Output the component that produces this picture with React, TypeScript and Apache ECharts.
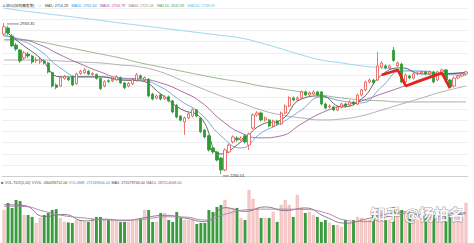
import React, { useEffect, useRef } from 'react';
import * as echarts from 'echarts';

const N = 116;
const categories: string[] = Array.from({ length: N }, (_, i) => `${i + 1}`);

// [open, close, low, high]
const candles: number[][] = [
  [2884, 2916, 2875, 2933.35], [2911, 2889, 2880, 2920], [2875, 2831, 2826, 2884], [2835, 2817, 2808, 2844], [2813, 2764, 2755, 2817],
  [2777, 2800, 2768, 2808], [2795, 2786, 2777, 2804], [2786, 2759, 2751, 2791], [2766, 2768, 2755, 2781], [2759, 2768, 2750, 2777],
  [2764, 2755, 2748, 2772], [2755, 2715, 2708, 2760], [2712, 2652, 2645, 2716], [2657, 2646, 2638, 2664], [2652, 2690, 2648, 2697],
  [2686, 2696, 2680, 2702], [2688, 2680, 2674, 2694], [2693, 2657, 2652, 2698], [2662, 2706, 2658, 2712], [2708, 2718, 2702, 2724],
  [2712, 2724, 2706, 2733], [2718, 2705, 2700, 2724], [2704, 2708, 2698, 2714], [2704, 2686, 2680, 2708], [2686, 2640, 2635, 2690],
  [2652, 2672, 2646, 2678], [2676, 2672, 2666, 2682], [2675, 2682, 2670, 2688], [2680, 2694, 2676, 2700], [2690, 2666, 2662, 2694],
  [2666, 2644, 2638, 2670], [2652, 2664, 2646, 2670], [2662, 2680, 2656, 2686], [2678, 2702, 2672, 2710], [2698, 2688, 2682, 2704],
  [2680, 2690, 2675, 2695], [2682, 2608, 2602, 2688], [2616, 2594, 2588, 2622], [2598, 2608, 2592, 2614], [2612, 2594, 2588, 2618],
  [2596, 2604, 2590, 2612], [2604, 2586, 2580, 2610], [2586, 2536, 2530, 2590], [2566, 2514, 2508, 2572], [2518, 2500, 2494, 2522],
  [2492, 2510, 2434, 2516], [2510, 2528, 2504, 2534], [2518, 2546, 2512, 2552], [2546, 2518, 2512, 2550], [2510, 2448, 2442, 2514],
  [2456, 2425, 2418, 2460], [2430, 2367, 2360, 2434], [2376, 2358, 2350, 2382], [2358, 2322, 2316, 2362], [2331, 2278, 2260.01, 2336],
  [2278, 2367, 2272, 2374], [2358, 2389, 2352, 2396], [2403, 2425, 2396, 2432], [2420, 2412, 2404, 2428], [2412, 2420, 2406, 2428],
  [2430, 2403, 2396, 2436], [2389, 2438, 2367, 2444], [2465, 2523, 2458, 2530], [2523, 2532, 2516, 2540], [2532, 2501, 2494, 2538],
  [2501, 2510, 2494, 2516], [2501, 2474, 2468, 2506], [2474, 2496, 2468, 2502], [2496, 2483, 2476, 2502], [2483, 2532, 2478, 2538],
  [2532, 2563, 2526, 2570], [2563, 2599, 2558, 2606], [2599, 2590, 2584, 2606], [2590, 2599, 2584, 2606], [2599, 2626, 2594, 2632],
  [2626, 2612, 2606, 2632], [2612, 2621, 2606, 2628], [2617, 2626, 2612, 2632], [2626, 2612, 2606, 2630], [2626, 2572, 2566, 2630],
  [2572, 2554, 2548, 2578], [2559, 2563, 2552, 2570], [2559, 2545, 2540, 2564], [2545, 2559, 2540, 2566], [2559, 2572, 2552, 2578],
  [2572, 2563, 2556, 2578], [2568, 2581, 2562, 2588], [2581, 2572, 2566, 2586], [2572, 2612, 2566, 2618], [2612, 2635, 2606, 2640],
  [2635, 2670, 2628, 2676], [2670, 2679, 2664, 2686], [2679, 2666, 2660, 2684], [2679, 2742, 2674, 2804], [2737, 2755, 2730, 2762],
  [2742, 2733, 2726, 2748], [2733, 2742, 2728, 2748], [2812, 2766, 2760, 2826], [2742, 2755, 2736, 2762], [2750, 2670, 2664, 2756],
  [2670, 2701, 2664, 2708], [2697, 2688, 2682, 2702], [2688, 2706, 2682, 2712], [2706, 2710, 2700, 2716], [2710, 2715, 2704, 2720],
  [2715, 2706, 2700, 2720], [2706, 2715, 2700, 2722], [2715, 2670, 2664, 2720], [2679, 2715, 2674, 2720], [2715, 2724, 2708, 2730],
  [2724, 2679, 2674, 2728], [2679, 2648, 2642, 2684], [2652, 2688, 2646, 2694], [2688, 2697, 2682, 2702], [2697, 2706, 2692, 2712],
  [2706, 2715, 2700, 2720],
];

// volume, 亿
const volumes: number[] = [
  2.24, 2.72, 2.38, 2.92, 2.85, 1.90, 1.90, 1.77, 1.36, 1.70,
  1.90, 2.04, 2.24, 2.30, 1.70, 1.43, 1.40, 1.36, 1.56, 1.56,
  1.43, 1.43, 1.70, 1.77, 1.77, 1.56, 1.56, 1.56, 1.50, 1.43,
  1.43, 1.43, 1.50, 1.56, 1.65, 2.24, 2.24, 1.43, 1.43, 2.04,
  2.04, 1.56, 1.43, 2.11, 1.70, 1.56, 1.56, 1.56, 1.29, 1.36,
  1.36, 2.24, 2.11, 2.45, 2.58, 2.92, 2.38, 2.38, 2.38, 1.70,
  1.56, 3.60, 2.99, 2.38, 1.70, 1.70, 1.70, 2.11, 1.43, 2.58,
  2.92, 2.58, 1.77, 3.26, 2.38, 2.04, 2.11, 1.90, 1.77, 1.43,
  1.56, 1.36, 1.22, 1.22, 1.09, 1.56, 1.36, 1.56, 1.77, 1.70,
  1.56, 1.56, 1.90, 2.38, 2.11, 1.56, 1.56, 2.45, 2.11, 2.24,
  2.11, 1.90, 1.56, 1.56, 1.77, 1.70, 1.70, 1.90, 2.24, 1.90,
  1.90, 1.77, 1.77, 2.11, 1.77, 2.72,
];

// moving averages at these candle positions
const maIdx: number[] = [0, 4, 9, 14, 19, 24, 29, 34, 39, 44, 49, 54, 59, 64, 69, 74, 79, 84, 89, 94, 99, 104, 109, 115];
const ma5: number[] = [2902, 2844, 2777, 2693, 2693, 2693, 2679, 2675, 2617, 2550, 2510, 2349, 2403, 2479, 2501, 2594, 2608, 2559, 2594, 2701, 2733, 2706, 2706, 2714];
const ma10: number[] = [2875, 2858, 2809, 2733, 2693, 2693, 2684, 2679, 2648, 2586, 2528, 2430, 2376, 2443, 2487, 2545, 2603, 2586, 2577, 2648, 2719, 2719, 2706, 2700];
const ma20: number[] = [2858, 2858, 2835, 2791, 2751, 2715, 2688, 2684, 2666, 2630, 2581, 2501, 2443, 2421, 2430, 2483, 2532, 2563, 2586, 2617, 2648, 2684, 2706, 2710];
const ma60: number[] = [2768, 2768, 2768, 2764, 2759, 2755, 2746, 2737, 2715, 2679, 2643, 2608, 2577, 2545, 2523, 2510, 2501, 2505, 2519, 2545, 2572, 2599, 2626, 2652];
const ma120: number[] = [2880, 2862, 2849, 2831, 2813, 2795, 2777, 2755, 2737, 2719, 2701, 2684, 2670, 2652, 2639, 2626, 2612, 2599, 2590, 2586, 2581, 2581, 2581, 2581];
const ma250: number[] = [3000, 2989, 2978, 2967, 2956, 2945, 2933, 2922, 2911, 2900, 2889, 2878, 2866, 2844, 2818, 2791, 2768, 2755, 2742, 2733, 2724, 2717, 2710, 2706];

const vmaIdx: number[] = [0, 5, 10, 15, 20, 25, 30, 35, 40, 45, 50, 55, 60, 65, 70, 75, 80, 85, 90, 95, 100, 105, 110, 115];
const vma5: number[] = [2.60, 2.55, 1.80, 1.94, 1.50, 1.62, 1.52, 1.72, 1.88, 1.70, 1.45, 2.40, 2.15, 2.45, 2.20, 2.38, 1.78, 1.35, 1.62, 1.95, 2.12, 1.75, 1.95, 2.05];
const vma10: number[] = [2.50, 2.48, 2.15, 1.85, 1.70, 1.56, 1.56, 1.62, 1.78, 1.76, 1.56, 1.95, 2.25, 2.30, 2.30, 2.28, 2.05, 1.55, 1.45, 1.75, 2.00, 1.90, 1.85, 2.00];

// hand-drawn red zigzag annotation
const noteIdx: number[] = [94, 98, 100, 109, 111];
const noteVal: number[] = [2701, 2724, 2652, 2710, 2643];

const mainTitle = '上证50(加权偏差等)';
const mainLegend = [
  { key: 'm5', text: 'MA5: 2714.29', color: '#444444' },
  { key: 'm10', text: 'MA10: 2762.64', color: '#3f8fd6' },
  { key: 'm20', text: 'MA20: 2754.79', color: '#9a4f95' },
  { key: 'm60', text: 'MA60: 2721.04', color: '#8a8a8a' },
  { key: 'm120', text: 'MA120: 2842.69', color: '#4f9f4f' },
  { key: 'm250', text: 'MA250: 2738.09', color: '#5fbfd8' },
];
const volLegend = [
  { key: 'v0', text: 'VOL-TDX(5,10)', color: '#444444' },
  { key: 'v1', text: 'VVOL: 430493712.00', color: '#444444' },
  { key: 'v2', text: 'VOLUME: 271589006.00', color: '#3f8fd6' },
  { key: 'v3', text: 'MA5: 271579734.00', color: '#444444' },
  { key: 'v4', text: 'MA10: 287514008.00', color: '#9a4f95' },
];

const expand = (idx: number[], vals: number[]) => {
  const arr: (number | null)[] = new Array(N).fill(null);
  idx.forEach((k, j) => { arr[k] = vals[j]; });
  return arr;
};

const FONT = '"Liberation Sans", "Noto Sans CJK SC", sans-serif';
const FS = 3.7;
const UP = '#e5544c';
const DOWN = '#2f9a35';

const richLine = (items: { key: string; text: string; color: string }[], gap: number) => {
  const rich: any = {};
  items.forEach((l) => { rich[l.key] = { fill: l.color, color: l.color, fontSize: FS, fontFamily: FONT, padding: [0, gap, 0, 0] }; });
  return { text: items.map((l) => `{${l.key}|${l.text}}`).join(''), rich };
};

export default function App() {
  const ref = useRef<HTMLDivElement>(null);
  useEffect(() => {
    if (!ref.current) return;
    const chart = echarts.init(ref.current, undefined, { renderer: 'svg' });
    const maLine = (name: string, vals: number[], color: string, idx = maIdx, xi = 0) => ({
      name, type: 'line', xAxisIndex: xi, yAxisIndex: xi, data: expand(idx, vals),
      connectNulls: true, smooth: true, symbol: 'none', silent: true,
      lineStyle: { color, width: 0.9 }, z: 3,
    });
    const head = richLine([
      { key: 't', text: mainTitle, color: '#333333' },
      { key: 'o', text: '◎', color: '#555555' },
      ...mainLegend,
    ], 3.5);
    const vhead = richLine([{ key: 'sq', text: '■', color: '#555555' }, ...volLegend], 1.5);
    const texts: any[] = [
      { type: 'text', left: 2, top: 4.5, style: { text: head.text, rich: head.rich, font: `${FS}px ${FONT}` } },
      { type: 'text', left: 1, top: 181.5, style: { text: vhead.text, rich: vhead.rich, font: `${FS}px ${FONT}` } },
      { type: 'text', left: 370, top: 205, style: { text: '知乎 @杨柏名', fill: 'rgba(255,255,255,0.96)', stroke: 'rgba(90,90,90,0.6)', lineWidth: 1, font: `bold 15px "Noto Sans CJK SC", sans-serif` }, z: 100 },
    ];
    chart.setOption({
      animation: false,
      backgroundColor: '#ffffff',
      grid: [
        { left: 2, right: 6, top: 8, height: 168.2 },
        { left: 2, right: 6, top: 190, height: 53 },
      ],
      xAxis: [
        { type: 'category', data: categories, gridIndex: 0, boundaryGap: true, axisLine: { show: true, lineStyle: { color: '#cfcfcf', width: 1 } }, axisTick: { show: false }, axisLabel: { show: false }, splitLine: { show: false } },
        { type: 'category', data: categories, gridIndex: 1, boundaryGap: true, axisLine: { show: false }, axisTick: { show: false }, axisLabel: { show: false }, splitLine: { show: false } },
      ],
      yAxis: [
        { type: 'value', gridIndex: 0, min: 2250, max: 3000, interval: 50, axisLine: { show: false }, axisTick: { show: false }, axisLabel: { show: false }, splitLine: { show: true, lineStyle: { color: '#efefef', width: 1 } } },
        { type: 'value', gridIndex: 1, min: 0, max: 3.6, axisLine: { show: false }, axisTick: { show: false }, axisLabel: { show: false }, splitLine: { show: false } },
      ],
      graphic: texts,
      series: [
        maLine('MA250', ma250, '#8fd3ea'),
        maLine('MA120', ma120, '#8fae86'),
        maLine('MA60', ma60, '#a8a8a8'),
        maLine('MA20', ma20, '#a0609a'),
        maLine('MA10', ma10, '#6f9fd8'),
        maLine('MA5', ma5, '#555555'),
        {
          name: 'K', type: 'candlestick', data: candles, barWidth: '68%', z: 5,
          itemStyle: { color: '#ffffff', color0: DOWN, borderColor: UP, borderColor0: DOWN, borderWidth: 0.8 },
          markPoint: {
            silent: true, symbol: 'rect',
            data: [
              { coord: [0, 2933.35], symbolSize: [12, 0.7], symbolOffset: [9, 1], itemStyle: { color: '#555' },
                label: { show: true, position: 'right', distance: 1, formatter: '2933.35', color: '#333', fontSize: FS + 0.3, fontFamily: FONT } },
              { coord: [54, 2260.01], symbolSize: [6, 0.7], symbolOffset: [5, 2], itemStyle: { color: '#555' },
                label: { show: true, position: 'right', distance: 1, formatter: '2260.01', color: '#333', fontSize: FS + 0.3, fontFamily: FONT } },
            ],
          },
        },
        {
          name: 'note', type: 'line', data: expand(noteIdx, noteVal), connectNulls: true, symbol: 'none', silent: true, z: 8,
          lineStyle: { color: '#e3231c', width: 2.6 },
        },
        {
          name: 'VOL', type: 'bar', xAxisIndex: 1, yAxisIndex: 1, barWidth: '72%',
          data: volumes.map((v, i) => {
            const up = candles[i][1] >= candles[i][0];
            return { value: v, itemStyle: up ? { color: '#f7cfcf', borderColor: '#eaa0a0', borderWidth: 0.5 } : { color: '#3a9c3f' } };
          }),
        },
        maLine('VMA5', vma5, '#777777', vmaIdx, 1),
        maLine('VMA10', vma10, '#b07ab0', vmaIdx, 1),
      ],
    });
    return () => chart.dispose();
  }, []);
  return <div ref={ref} style={{ position: 'fixed', left: 0, top: 0, width: 474, height: 243 }} />;
}
